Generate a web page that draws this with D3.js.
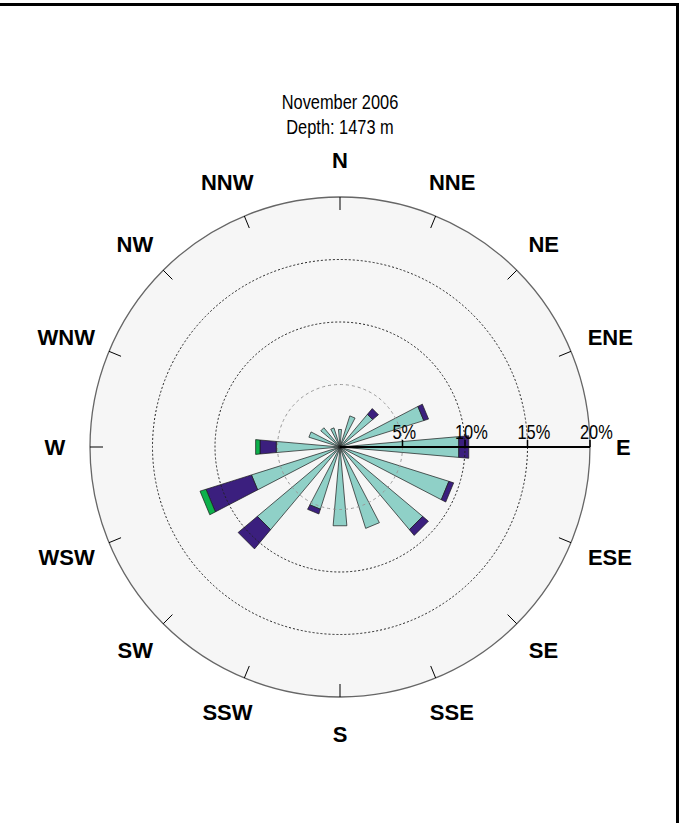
<!DOCTYPE html>
<html>
<head>
<meta charset="utf-8">
<script src="https://cdn.jsdelivr.net/npm/d3@7"></script>
<style>
  body { margin: 0; background: #fff; }
</style>
</head>
<body>
<div id="graph"></div>
<script>

// chart data: 16 compass sectors, % of time per speed class
var directions = ["N","NNE","NE","ENE","E","ESE","SE","SSE","S","SSW","SW","WSW","W","WNW","NW","NNW"];
var slowClass  = [1.4, 2.6, 3.4, 7.0, 9.5, 9.1, 8.6, 6.8, 6.3, 5.2, 8.6, 7.4, 5.1, 2.6, 2.0, 1.6];
var midClass   = [0,   0,   0.6, 0.4, 0.8, 0.4, 0.6, 0,   0,   0.4, 2.0, 3.8, 1.3, 0,   0,   0  ];
var fastClass  = [0,   0,   0,   0,   0,   0,   0,   0,   0,   0,   0,   0.5, 0.35, 0,  0,   0  ];
var pctTicks = [5, 10, 15, 20];
var titleLines = ["November 2006", "Depth: 1473 m"];

var width = 680, height = 823;
var cx = 340, cy = 447, R = 250;
var narrow = 0.82; // squeeze regular font to look like Arial Narrow

var svg = d3.select("#graph")
  .append("svg")
    .attr("width", width)
    .attr("height", height);

// frame (top and right edges only show)
svg.append("line").attr("x1", 0).attr("x2", 679).attr("y1", 4.5).attr("y2", 4.5)
  .attr("stroke", "#000").attr("stroke-width", 3);
svg.append("line").attr("x1", 677.5).attr("x2", 677.5).attr("y1", 3).attr("y2", height)
  .attr("stroke", "#000").attr("stroke-width", 3);

var r = d3.scaleLinear().domain([0, 20]).range([0, R]);

// compass angle (deg, clockwise from N) -> point
function pt(angDeg, dist) {
  var a = angDeg * Math.PI / 180;
  return [cx + dist * Math.sin(a), cy - dist * Math.cos(a)];
}

var g = svg.append("g");

// background disc
g.append("circle")
  .attr("cx", cx).attr("cy", cy).attr("r", R)
  .attr("fill", "#f6f6f6")
  .attr("stroke", "none");

// stacked petals
var classes = [
  {vals: slowClass, color: "#8fd0c7"},
  {vals: midClass,  color: "#3b1f7e"},
  {vals: fastClass, color: "#0db04b"}
];
var halfW = 5;
var line = d3.line();

var segs = [];
directions.forEach(function(d, i) {
  var base = 0;
  classes.forEach(function(c) {
    var v = c.vals[i];
    if (v > 0) {
      segs.push({dir: d, ang: i * 22.5, r0: base, r1: base + v, color: c.color});
      base += v;
    }
  });
});

g.append("g")
  .selectAll("path")
  .data(segs)
  .enter()
  .append("path")
    .attr("d", function(s) {
      var k = 1 / Math.cos(halfW * Math.PI / 180);
      return line([
        pt(s.ang - halfW, r(s.r0) * k),
        pt(s.ang - halfW, r(s.r1) * k),
        pt(s.ang + halfW, r(s.r1) * k),
        pt(s.ang + halfW, r(s.r0) * k)
      ]) + "Z";
    })
    .attr("fill", function(s) { return s.color; })
    .attr("stroke", "#1a1a1a")
    .attr("stroke-width", 0.7)
    .attr("stroke-linejoin", "round");

// grid circles
g.append("circle").attr("cx", cx).attr("cy", cy).attr("r", r(5))
  .attr("fill", "none").attr("stroke", "#999").attr("stroke-width", 1).attr("stroke-dasharray", "3,3");
[10, 15].forEach(function(p) {
  g.append("circle").attr("cx", cx).attr("cy", cy).attr("r", r(p))
    .attr("fill", "none").attr("stroke", "#222").attr("stroke-width", 1).attr("stroke-dasharray", "2,2");
});
g.append("circle").attr("cx", cx).attr("cy", cy).attr("r", R)
  .attr("fill", "none").attr("stroke", "#666").attr("stroke-width", 1.3);

// direction ticks on outer ring
g.append("g")
  .selectAll("line")
  .data(directions)
  .enter()
  .append("line")
    .attr("x1", function(d, i) { return pt(i * 22.5, R)[0]; })
    .attr("y1", function(d, i) { return pt(i * 22.5, R)[1]; })
    .attr("x2", function(d, i) { return pt(i * 22.5, R - 13)[0]; })
    .attr("y2", function(d, i) { return pt(i * 22.5, R - 13)[1]; })
    .attr("stroke", "#000")
    .attr("stroke-width", 1);

// percentage axis towards E
g.append("line")
  .attr("x1", cx).attr("y1", cy).attr("x2", cx + r(20)).attr("y2", cy)
  .attr("stroke", "#000").attr("stroke-width", 2);

g.append("g")
  .selectAll("line")
  .data(pctTicks)
  .enter()
  .append("line")
    .attr("x1", function(p) { return cx + r(p); })
    .attr("x2", function(p) { return cx + r(p); })
    .attr("y1", cy - 7).attr("y2", cy)
    .attr("stroke", "#000").attr("stroke-width", 1.5);

g.append("g")
  .selectAll("text")
  .data(pctTicks)
  .enter()
  .append("text")
    .attr("transform", function(p) {
      return "translate(" + (cx + r(p) - 10) + "," + (cy - 8) + ") scale(" + narrow + ",1)";
    })
    .attr("font-family", "'Liberation Sans', Arial, sans-serif")
    .attr("font-size", 20)
    .attr("fill", "#000")
    .text(function(p) { return p + "%"; });

// compass labels on a slightly tall ellipse, nudged outward by part of their width
g.append("g")
  .selectAll("text")
  .data(directions)
  .enter()
  .append("text")
    .attr("dy", "0.36em")
    .attr("text-anchor", "middle")
    .attr("font-family", "'Liberation Sans', Arial, sans-serif")
    .attr("font-weight", "bold")
    .attr("font-size", 22)
    .attr("fill", "#000")
    .text(function(d) { return d; })
    .each(function(d, i) {
      var a = i * 22.5 * Math.PI / 180;
      var w = this.getComputedTextLength();
      d3.select(this)
        .attr("x", cx + 279 * Math.sin(a) + 0.3 * w * Math.sin(a))
        .attr("y", cy - 287 * Math.cos(a));
    });

// title
svg.append("g")
  .selectAll("text")
  .data(titleLines)
  .enter()
  .append("text")
    .attr("transform", function(d, i) {
      return "translate(" + cx + "," + (109 + i * 25) + ") scale(" + narrow + ",1)";
    })
    .attr("text-anchor", "middle")
    .attr("font-family", "'Liberation Sans', Arial, sans-serif")
    .attr("font-size", 20)
    .attr("fill", "#000")
    .text(function(d) { return d; });

</script>
</body>
</html>
